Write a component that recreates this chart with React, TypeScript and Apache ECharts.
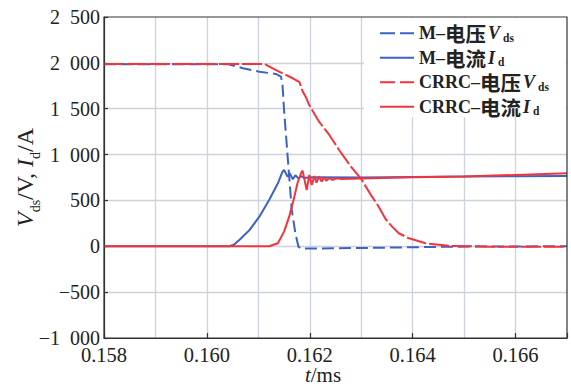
import React, { useEffect, useRef } from 'react';
import * as echarts from 'echarts';

// axis ranges / ticks
const xRange = [0.158, 0.167];
const xGridStep = 0.001;
const xLabelStep = 0.002;
const yRange = [-1000, 2500];
const yStep = 500;

// series names
const seriesNames = ['M–电压Vds', 'M–电流Id', 'CRRC–电压Vds', 'CRRC–电流Id'];
const legendRich = [
  '{t|M–}{c|电压}{i|V}{s|ds}',
  '{t|M–}{c|电流}{i|I}{s|d}',
  '{t|CRRC–}{c|电压}{i|V}{s|ds}',
  '{t|CRRC–}{c|电流}{i|I}{s|d}',
];

// [t (ms), value]
const mVoltage: [number, number][] = [
  [0.158, 1985], [0.16042, 1985], [0.1607, 1941], [0.16102, 1904], [0.16134, 1879],
  [0.16144, 1850], [0.16147, 1760], [0.1615, 1486], [0.16155, 1122], [0.1616, 759],
  [0.16165, 396], [0.16172, 142], [0.16178, -5], [0.16183, -25], [0.1625, -22],
  [0.1635, -15], [0.1645, -6], [0.1655, -2], [0.167, 0],
];

const mCurrent: [number, number][] = [
  [0.158, 0], [0.16044, 0], [0.16053, 20], [0.16063, 69], [0.16083, 178], [0.16102, 323],
  [0.16121, 505], [0.16138, 687], [0.16147, 814], [0.1615, 832], [0.16157, 759],
  [0.16161, 796], [0.16167, 731], [0.16172, 775], [0.16178, 740], [0.16183, 765],
  [0.16189, 745], [0.162, 752], [0.163, 750], [0.164, 756], [0.165, 760], [0.166, 763],
  [0.167, 765],
];

const crrcVoltage: [number, number][] = [
  [0.158, 1988], [0.16112, 1988], [0.16128, 1941], [0.16147, 1886], [0.16167, 1832],
  [0.1618, 1790], [0.16183, 1741], [0.16186, 1690], [0.16192, 1631], [0.16199, 1540],
  [0.16218, 1359], [0.16238, 1214], [0.16257, 1050], [0.1628, 868], [0.16299, 741],
  [0.16321, 541], [0.16334, 432], [0.16347, 300], [0.1636, 214], [0.16373, 142],
  [0.16393, 87], [0.16425, 33], [0.1647, 5], [0.1655, -4], [0.167, -4],
];

const crrcCurrent: [number, number][] = [
  [0.158, 0], [0.16121, 0], [0.16138, 33], [0.1615, 160], [0.1616, 323], [0.1617, 541],
  [0.16176, 687], [0.16183, 796], [0.16186, 825], [0.16194, 614], [0.16199, 778],
  [0.16204, 668], [0.16209, 767], [0.16213, 694], [0.16218, 759], [0.16223, 705],
  [0.16228, 752], [0.16232, 716], [0.16238, 745], [0.16244, 723], [0.16251, 742],
  [0.1626, 735], [0.163, 740], [0.164, 752], [0.165, 762], [0.166, 778], [0.167, 795],
];

const BLUE = '#3d62c6';
const RED = '#f2353b';
const FONT = "'Liberation Serif', 'Noto Sans CJK SC', serif";
const CJK = "'Noto Sans CJK SC', 'Liberation Serif', serif";
const GRID_COLOR = '#cdd3dc';
const AXIS_COLOR = '#333';
const TEXT = '#222';

function yLabel(v: number): string {
  const s = Math.abs(v).toString();
  const g = s.length > 3 ? s.slice(0, s.length - 3) + '\u2002' + s.slice(-3) : s;
  return (v < 0 ? '\u2212' : '') + g;
}

function xLabel(v: number): string {
  const k = Math.round(v * 1000);
  if (Math.abs(v * 1000 - k) > 1e-6 || k % 2 !== 0) return '';
  return v.toFixed(3);
}

export default function App() {
  const ref = useRef<HTMLDivElement>(null);
  useEffect(() => {
    document.body.style.margin = '0';
    const chart = echarts.init(ref.current!, null, { renderer: 'svg' });
    const legendText = {
      fontSize: 18, fontFamily: FONT, fontWeight: 'bold', color: TEXT,
      rich: {
        t: { fontSize: 18, fontFamily: FONT, fontWeight: 'bold', color: TEXT, lineHeight: 20 },
        c: { fontSize: 20.5, fontFamily: CJK, fontWeight: 'bold', color: TEXT, lineHeight: 20 },
        i: { fontSize: 18, fontFamily: FONT, fontWeight: 'bold', fontStyle: 'italic', color: TEXT, lineHeight: 20, padding: [0, 3, 0, 2] },
        s: { fontSize: 11.5, fontFamily: FONT, fontWeight: 'bold', color: TEXT, lineHeight: 5, verticalAlign: 'bottom' },
      },
    };
    const rowCenters = [33, 57.5, 82, 106.5];
    const option: any = {
      animation: false,
      backgroundColor: '#fff',
      grid: { left: 104, right: 4, top: 17, bottom: 48, containLabel: false, outerBoundsMode: 'none' },
      xAxis: [
        {
          type: 'value', min: xRange[0], max: xRange[1], interval: xGridStep, position: 'bottom',
          axisLine: { show: true, onZero: false, lineStyle: { color: AXIS_COLOR, width: 1.2 } },
          axisTick: { show: false }, axisLabel: { show: false },
          splitLine: { show: true, showMinLine: false, showMaxLine: false, lineStyle: { color: GRID_COLOR, width: 1.3 } },
        },
        {
          type: 'value', min: xRange[0], max: xRange[1], interval: xLabelStep, position: 'bottom',
          axisLine: { show: false, onZero: false },
          axisTick: { show: true, inside: true, length: 5, lineStyle: { color: AXIS_COLOR, width: 1.2 } },
          axisLabel: { formatter: xLabel, margin: 6, fontSize: 20.5, lineHeight: 21, fontFamily: FONT, color: TEXT },
          splitLine: { show: false },
          name: '{i|t}{t|/ms}', nameLocation: 'middle', nameGap: 29, nameMoveOverlap: false,
          nameTextStyle: {
            padding: [0, 25, 0, 0],
            rich: {
              i: { fontSize: 21, fontStyle: 'italic', fontFamily: FONT, color: TEXT, lineHeight: 16 },
              t: { fontSize: 21, fontFamily: FONT, color: TEXT, lineHeight: 16 },
            },
          },
        },
      ],
      yAxis: {
        type: 'value', min: yRange[0], max: yRange[1], interval: yStep,
        axisLine: { show: true, onZero: false, lineStyle: { color: AXIS_COLOR, width: 1.2 } },
        axisTick: { show: true, inside: true, length: 4, lineStyle: { color: AXIS_COLOR, width: 1.2 } },
        axisLabel: { formatter: yLabel, margin: 4, fontSize: 20, fontFamily: FONT, color: TEXT },
        splitLine: { show: true, showMinLine: false, showMaxLine: false, lineStyle: { color: GRID_COLOR, width: 1.3 } },
        name: '{i|V}{s|ds}{t|/V, }{i|I}{s|d}{t|/A}', nameLocation: 'middle', nameRotate: 90, nameGap: 62,
        nameMoveOverlap: false,
        nameTextStyle: {
          rich: {
            i: { fontSize: 24, fontStyle: 'italic', fontFamily: FONT, color: TEXT, lineHeight: 34 },
            t: { fontSize: 24, fontFamily: FONT, color: TEXT, lineHeight: 34 },
            s: { fontSize: 14, fontFamily: FONT, color: TEXT, lineHeight: 8, verticalAlign: 'bottom' },
          },
        },
      },
      legend: seriesNames.map((n, i) => ({
        orient: 'vertical', left: 379, top: rowCenters[i] - 10, padding: 0,
        itemWidth: 34, itemHeight: 12,
        data: [n],
        formatter: (name: string) => legendRich[seriesNames.indexOf(name)],
        itemStyle: { color: 'transparent', borderColor: 'transparent', borderWidth: 0, opacity: 0 },
        lineStyle: i % 2 === 0 ? { type: [15, 5], width: 2 } : { width: 2 },
        textStyle: legendText,
      })),
      graphic: [
        { type: 'rect', z: 1, silent: true, shape: { x: 364, y: 18, width: 202, height: 99 }, style: { fill: '#fff' } },
        { type: 'rect', z: 10, silent: true, shape: { x: 104, y: 17, width: 463, height: 321 }, style: { fill: 'transparent', stroke: AXIS_COLOR, lineWidth: 1.2 } },
      ],
      series: [
        { name: seriesNames[0], type: 'line', xAxisIndex: 0, data: mVoltage, symbol: 'none', lineStyle: { color: BLUE, width: 2, type: [12, 5] }, itemStyle: { color: BLUE } },
        { name: seriesNames[1], type: 'line', xAxisIndex: 0, data: mCurrent, symbol: 'none', lineStyle: { color: BLUE, width: 2 }, itemStyle: { color: BLUE } },
        { name: seriesNames[2], type: 'line', xAxisIndex: 0, data: crrcVoltage, symbol: 'none', lineStyle: { color: RED, width: 2, type: [20, 3] }, itemStyle: { color: RED } },
        { name: seriesNames[3], type: 'line', xAxisIndex: 0, data: crrcCurrent, symbol: 'none', lineStyle: { color: RED, width: 2 }, itemStyle: { color: RED } },
      ],
    };
    chart.setOption(option);
    return () => chart.dispose();
  }, []);
  return <div ref={ref} style={{ width: 571, height: 386 }} />;
}
